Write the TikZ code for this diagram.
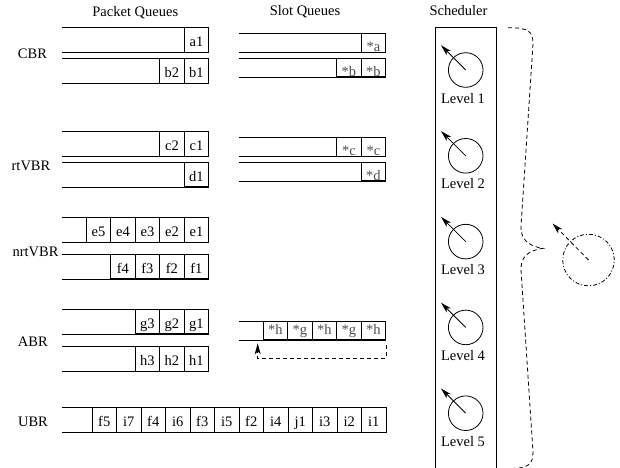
\documentclass[tikz,border=0pt]{standalone}
\usepackage{fontspec}
\setmainfont{Liberation Serif}
\usetikzlibrary{arrows.meta}

\begin{document}
\begin{tikzpicture}[>={Stealth[length=11pt,width=6pt,inset=3pt]}, x=1pt, y=-1pt, line width=0.8pt,
    font=\fontsize{14.5}{17}\selectfont,
    cell/.style={draw, inner sep=0pt, minimum width=24.5pt, text height=19.1pt, text depth=5.5pt, anchor=south},
    slot/.style={cell, text=black!70, text height=13.5pt, text depth=5pt},
    lowslot/.style={slot, text height=18.5pt, text depth=0pt},
    wheel/.style={circle, draw, minimum size=34.6pt, inner sep=0pt},
    dashline/.style={dash pattern=on 4pt off 3pt}]
      \useasboundingbox (0,0) rectangle (620,467);

      % Titles
      \node[anchor=base] (pq)  at (135.3,16)   {Packet Queues};
      \node[anchor=base] (sq)  at (305,15.3)   {Slot Queues};
      \node[anchor=base] (sch) at (458.5,15.7) {Scheduler};

      % Classes
      \node[anchor=base] (cbr)    at (32.5,58.3)  {CBR};
      \node[anchor=base] (rtvbr)  at (31,170)     {rtVBR};
      \node[anchor=base] (nrtvbr) at (35.5,256.7) {nrtVBR};
      \node[anchor=base] (abr)    at (32.8,346.7) {ABR};
      \node[anchor=base] (ubr)    at (33,426.7)   {UBR};

      % Packet queues
      \draw (62,27.7)  -| (208.7,52.3)  -- (62,52.3);
      \draw (62,58.7)  -| (208.7,83.3)  -- (62,83.3);
      \draw (62,131.7) -| (208.7,156.3) -- (62,156.3);
      \draw (62,162.3) -| (208.7,186.9) -- (62,186.9);
      \draw (62,217.7) -| (208.7,242.3) -- (62,242.3);
      \draw (62,254.3) -| (208.7,278.9) -- (62,278.9);
      \draw (62,309.3) -| (208.7,333.9) -- (62,333.9);
      \draw (62,346.7) -| (208.7,371.3) -- (62,371.3);
      \draw (62,407.7) -| (386,432.3)   -- (62,432.3);

      \foreach \t [count=\i] in {a1} \node[cell] (\t) at (220.95-24.5*\i,52.3) {\t};
      \foreach \t [count=\i] in {b1,b2} \node[cell] (\t) at (220.95-24.5*\i,83.3) {\t};
      \foreach \t [count=\i] in {c1,c2} \node[cell] (\t) at (220.95-24.5*\i,156.3) {\t};
      \foreach \t [count=\i] in {d1} \node[cell] (\t) at (220.95-24.5*\i,186.9) {\t};
      \foreach \t [count=\i] in {e1,e2,e3,e4,e5} \node[cell] (\t) at (220.95-24.5*\i,242.3) {\t};
      \foreach \t [count=\i] in {f1,f2,f3,f4} \node[cell] (\t) at (220.95-24.5*\i,278.9) {\t};
      \foreach \t [count=\i] in {g1,g2,g3} \node[cell] (\t) at (220.95-24.5*\i,333.9) {\t};
      \foreach \t [count=\i] in {h1,h2,h3} \node[cell] (\t) at (220.95-24.5*\i,371.3) {\t};
      \foreach \t [count=\i] in {i1,i2,i3,j1,i4,f2,i5,f3,i6,f4,i7,f5}
        \node[cell] (u\i) at (398.25-24.5*\i,432.3) {\t};

      % Slot queues
      \draw (239.3,33.7)  -| (385.7,52.3)  -- (239.3,52.3);
      \draw (239.3,58.7)  -| (385.7,77.2)  -- (239.3,77.2);
      \draw (239.3,137.7) -| (385.7,156.3) -- (239.3,156.3);
      \draw (239.3,162.7) -| (385.7,181.2) -- (239.3,181.2);
      \draw (239.3,321.7) -| (385.7,340.2) -- (239.3,340.2);

      \foreach \t [count=\i] in {a} \node[lowslot] (sa\i) at (397.95-24.5*\i,52.3) {*\t};
      \foreach \t [count=\i] in {b,b} \node[lowslot] (sb\i) at (397.95-24.5*\i,77.2) {*\t};
      \foreach \t [count=\i] in {c,c} \node[lowslot] (sc\i) at (397.95-24.5*\i,156.3) {*\t};
      \foreach \t [count=\i] in {d} \node[lowslot] (sd\i) at (397.95-24.5*\i,181.2) {*\t};
      \foreach \t [count=\i] in {h,g,h,g,h} \node[slot] (sh\i) at (397.95-24.5*\i,340.2) {*\t};

      % ABR slot loop
      \coordinate (slotin) at (257.7,343.3);
      \draw[dashline, ->] ([yshift=-5pt]sh1.south east) |- ([yshift=-15pt]slotin) -- (slotin);

      % Scheduler
      \draw (435.3,27.7) rectangle (496.7,468.5);
      \foreach \n/\cy in {1/70, 2/155.8, 3/241.6, 4/327.4, 5/413.2} {
        \node[wheel] (L\n) at (465.7,\cy) {};
        \draw[->] (L\n.center) -- ++(-24.7,-24.7);
        \node[anchor=base] (lab\n) at (463,\cy+33) {Level \n};
      }

      % Brace and pointer
      \draw[dashline] (508,27.7) .. controls (528,27.7) and (533,31) .. (533,44)
        -- (521,226) .. controls (520.5,238) and (527,246) .. (543,248.3)
        .. controls (527,250.5) and (520.5,258) .. (521,270)
        -- (533,452) .. controls (533,465) and (528,468.5) .. (508,468.5);
      \node[wheel, minimum size=51.6pt, dash pattern=on 4pt off 2pt on 1pt off 2pt] (ptr) at (588.5,260) {};
      \draw[dashline, ->] (ptr.center) -- ++(-36,-36.5);
    \end{tikzpicture}
\end{document}
